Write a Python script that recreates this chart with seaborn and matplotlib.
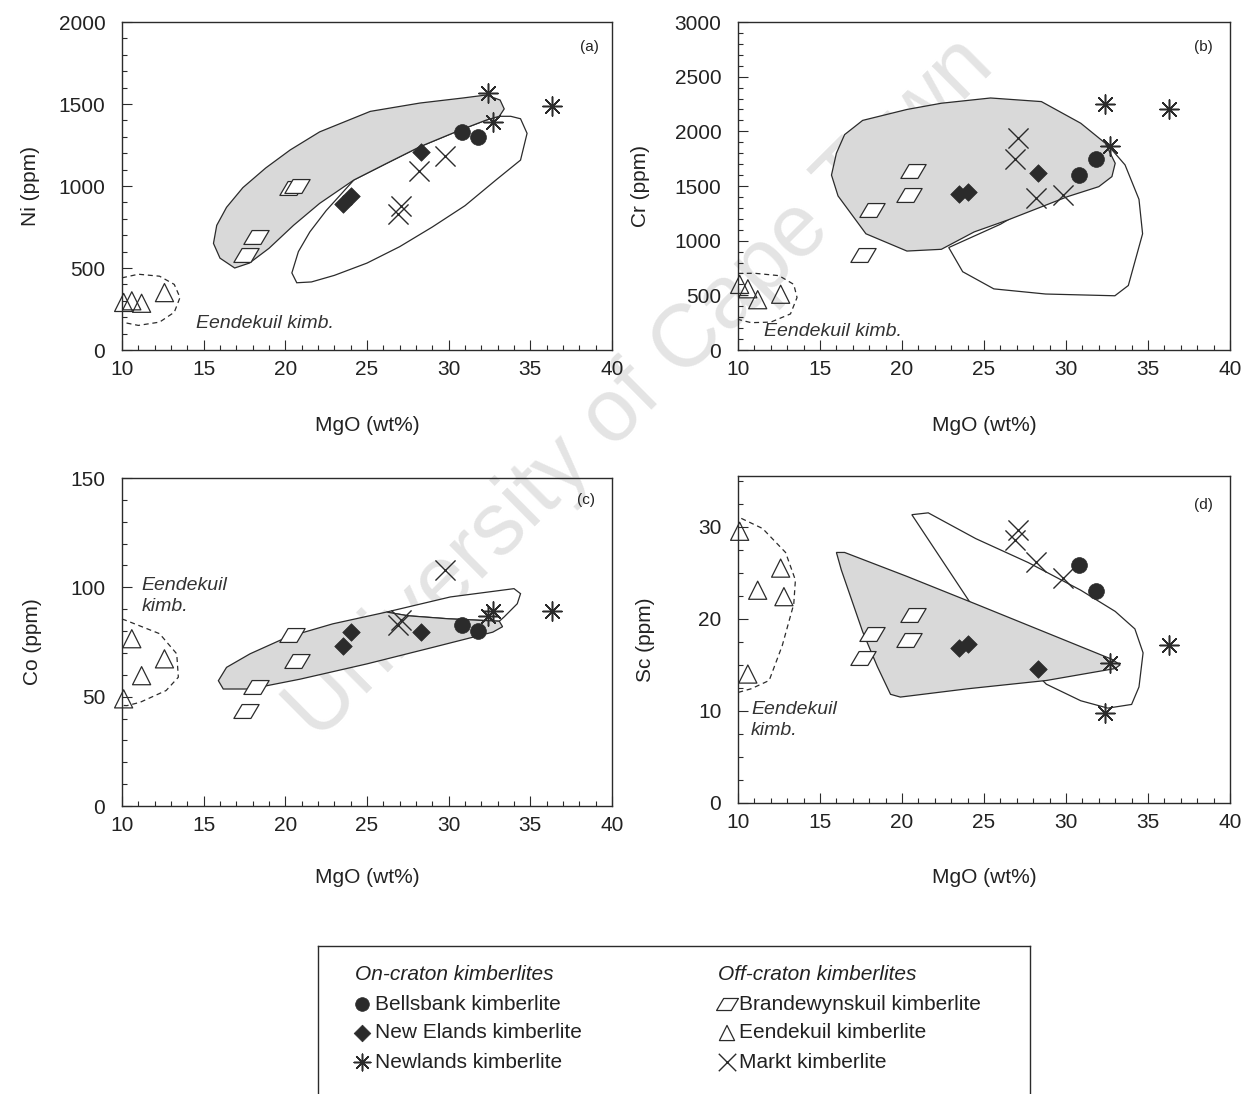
import numpy as np
import matplotlib
matplotlib.use("Agg")
import matplotlib.pyplot as plt
from matplotlib.path import Path
from matplotlib.ticker import MultipleLocator
import seaborn as sns

sns.set_theme(style="white")
plt.rcParams['font.family'] = ['Liberation Sans', 'DejaVu Sans']

nan = np.nan

# ---------------- whole-rock data (MgO wt%, trace elements ppm) ----------------
bellsbank_mgo = [30.8, 31.8]
bellsbank_ni = [1330, 1300]
bellsbank_cr = [1600, 1745]
bellsbank_co = [83, 80]
bellsbank_sc = [25.8, 23.0]

newelands_mgo = [23.5, 24.0, 28.3]
newelands_ni = [890, 940, 1210]
newelands_cr = [1430, 1445, 1620]
newelands_co = [73, 79.5, 79.5]
newelands_sc = [16.8, 17.3, 14.5]

newlands_mgo = [32.4, 32.7, 36.3]
newlands_ni = [1570, 1390, 1490]
newlands_cr = [2250, 1870, 2200]
newlands_co = [87, 89, 89]
newlands_sc = [9.8, 15.2, 17.2]

brandewyn_mgo = [17.6, 18.2, 20.4, 20.7]
brandewyn_ni = [580, 690, 990, 1000]
brandewyn_cr = [870, 1280, 1420, 1640]
brandewyn_co = [43.6, 54.3, 78, 66.5]
brandewyn_sc = [15.7, 18.3, 17.7, 20.4]

eendekuil_mgo = [10.1, 10.6, 11.2, 12.6, 12.8]
eendekuil_ni = [290, 300, 285, 350, nan]
eendekuil_cr = [600, 560, 460, 510, nan]
eendekuil_co = [49, 76.5, 59.6, 67.3, nan]
eendekuil_sc = [29.5, 14.0, 23.1, 25.5, 22.4]

markt_mgo = [26.9, 27.1, 28.2, 29.8]
markt_ni = [830, 880, 1090, 1180]
markt_cr = [1750, 1940, 1390, 1420]
markt_co = [83, 85, nan, 108]
markt_sc = [28.6, 29.6, 26.2, 24.4]

# ---------------- compositional fields (MgO, element) ----------------
field_on_ni = [(16.9, 500), (16.0, 560), (15.6, 650), (15.8, 760), (16.4, 870), (17.4, 990),
               (18.8, 1110), (20.3, 1220), (22.1, 1330), (25.2, 1455), (28.25, 1506), (30.9, 1537),
               (32.3, 1555), (33.15, 1524), (33.4, 1470), (33.1, 1425), (32.3, 1402), (30.7, 1341),
               (28.25, 1240), (26.2, 1138), (24.2, 1037), (22.1, 894), (20.5, 760), (19.0, 620),
               (17.8, 530)]
field_off_ni = [(33.1, 1425), (33.8, 1425), (34.4, 1410), (34.8, 1321), (34.4, 1158), (32.9, 1037),
                (31.0, 880), (29.0, 750), (27.0, 630), (25.0, 530), (23.0, 455), (21.6, 415),
                (20.7, 410), (20.4, 470), (20.8, 600), (21.5, 720), (22.5, 850), (24.2, 1037),
                (26.2, 1138), (28.25, 1240), (30.7, 1341), (32.3, 1402)]
eendekuil_ring_ni = [(10.0, 440), (11.0, 462), (12.3, 450), (13.2, 400), (13.55, 320), (13.2, 230),
                     (12.3, 170), (11.0, 150), (10.0, 170)]

field_on_cr = [(15.7, 1600), (16.0, 1800), (16.5, 1970), (17.6, 2100), (20.3, 2200), (22.4, 2257),
               (25.4, 2305), (28.5, 2272), (30.9, 2074), (32.4, 1891), (33.0, 1708), (32.8, 1586),
               (32.0, 1494), (30.1, 1403), (26.45, 1189), (24.4, 1080), (22.4, 921), (20.3, 905),
               (17.8, 1063), (16.1, 1409)]
field_off_cr = [(22.85, 937), (23.7, 716), (25.6, 559), (28.76, 512), (32.98, 496), (33.8, 590),
                (34.67, 1063), (34.45, 1378), (33.6, 1693), (32.6, 1866), (32.2, 1900), (30.0, 1500),
                (26.0, 1150)]
eendekuil_ring_cr = [(10.0, 700), (11.0, 702), (12.5, 680), (13.4, 600), (13.6, 480), (13.2, 330),
                     (12.0, 255), (10.8, 250), (10.0, 280)]

field_on_co = [(15.9, 57.3), (16.4, 63.4), (17.84, 69.6), (20.1, 77.2), (22.9, 83.3), (26.2, 88.7),
               (27.5, 87.0), (30.0, 85.6), (33.1, 84.5), (33.3, 82.0), (32.7, 79.5), (29.06, 72.6),
               (25.0, 65.0), (20.9, 58.0), (17.84, 53.5), (16.2, 53.5)]
field_off_co = [(26.2, 88.7), (30.1, 95.6), (34.0, 99.4), (34.4, 97.1), (34.2, 92.5), (33.4, 86.5),
                (33.1, 84.5), (30.0, 85.6), (27.5, 87.0)]
eendekuil_ring_co = [(10.0, 85.5), (10.2, 85.0), (12.3, 78.8), (13.35, 69.6), (13.45, 58.9), (12.7, 52.8),
                     (11.1, 47.4), (10.3, 45.9), (10.0, 46.0)]

field_on_sc = [(16.0, 27.2), (16.3, 25.3), (17.6, 18.6), (18.5, 14.8), (19.3, 11.8), (19.9, 11.5),
               (24.0, 12.4), (28.8, 13.3), (33.0, 14.6), (33.3, 15.0), (32.8, 15.6), (24.5, 21.6),
               (20.3, 24.6), (16.5, 27.2)]
field_off_sc = [(20.6, 31.3), (21.6, 31.5), (24.5, 28.7), (27.7, 26.1), (30.9, 23.1), (33.0, 20.8),
                (34.2, 18.9), (34.7, 16.3), (34.45, 12.6), (34.0, 10.7), (32.55, 10.3), (30.9, 11.1),
                (28.8, 12.9), (26.0, 18.0), (24.1, 21.9)]
eendekuil_ring_sc = [(10.2, 30.9), (11.5, 29.8), (12.9, 27.2), (13.5, 24.2), (13.4, 21.6), (12.7, 17.1),
                     (11.9, 13.3), (10.8, 12.4), (10.0, 12.0)]

# ---------------- styling ----------------
INK = '#2b2b2b'
FIELD_GREY = '#d9d9d9'
W, H = 1251, 1094

parallelogram = Path([(-1, -0.55), (0.35, -0.55), (1, 0.55), (-0.35, 0.55), (-1, -0.55)],
                     [Path.MOVETO, Path.LINETO, Path.LINETO, Path.LINETO, Path.CLOSEPOLY])

kimberlites = [
    # name, mgo, values per element, marker style
    ("bellsbank", bellsbank_mgo, dict(Ni=bellsbank_ni, Cr=bellsbank_cr, Co=bellsbank_co, Sc=bellsbank_sc),
     dict(marker='o', s=130, color=INK, edgecolor=INK, linewidth=0.5)),
    ("newelands", newelands_mgo, dict(Ni=newelands_ni, Cr=newelands_cr, Co=newelands_co, Sc=newelands_sc),
     dict(marker='D', s=80, color=INK, edgecolor=INK, linewidth=0.5)),
    ("newlands", newlands_mgo, dict(Ni=newlands_ni, Cr=newlands_cr, Co=newlands_co, Sc=newlands_sc),
     dict(marker=(8, 2, 0), s=190, color=INK, linewidth=1.1)),
    ("brandewyn", brandewyn_mgo, dict(Ni=brandewyn_ni, Cr=brandewyn_cr, Co=brandewyn_co, Sc=brandewyn_sc),
     dict(marker=parallelogram, s=330, color=INK, facecolor='white', edgecolor=INK, linewidth=0.9)),
    ("eendekuil", eendekuil_mgo, dict(Ni=eendekuil_ni, Cr=eendekuil_cr, Co=eendekuil_co, Sc=eendekuil_sc),
     dict(marker='^', s=170, color=INK, facecolor='none', edgecolor=INK, linewidth=0.9)),
    ("markt", markt_mgo, dict(Ni=markt_ni, Cr=markt_cr, Co=markt_co, Sc=markt_sc),
     dict(marker='x', s=210, color=INK, linewidth=1.0)),
]

fig = plt.figure(figsize=(W / 100, H / 100), dpi=100)
fig.patch.set_facecolor('white')

# archive watermark, kept behind the (transparent) panels so every mark stays legible
fig.text(0.512, 0.644, 'University of Cape Town', fontsize=64, color='#e4e4e4',
         rotation=44.8, ha='center', va='center', rotation_mode='anchor', zorder=-1)


def axes_at(left, top, right, bottom):
    return fig.add_axes([left / W, 1 - bottom / H, (right - left) / W, (bottom - top) / H])


panels = [
    dict(ax=axes_at(122, 22, 612, 350), el='Ni', ylim=(0, 2000), major=500, minor=100,
         ylabel='Ni (ppm)', ylab_x=-0.167, xlab_y=-0.2, tag='(a)', tag_pos=(38.6, 1850),
         on=field_on_ni, off=field_off_ni, ring=eendekuil_ring_ni,
         note='Eendekuil kimb.', note_pos=(14.5, 163)),
    dict(ax=axes_at(738, 22, 1230, 350), el='Cr', ylim=(0, 3000), major=500, minor=100,
         ylabel='Cr (ppm)', ylab_x=-0.179, xlab_y=-0.2, tag='(b)', tag_pos=(38.4, 2770),
         on=field_on_cr, off=field_off_cr, ring=eendekuil_ring_cr,
         note='Eendekuil kimb.', note_pos=(11.6, 170)),
    dict(ax=axes_at(122, 478, 612, 806), el='Co', ylim=(0, 150), major=50, minor=10,
         ylabel='Co (ppm)', ylab_x=-0.163, xlab_y=-0.19, tag='(c)', tag_pos=(38.4, 140),
         on=field_on_co, off=field_off_co, ring=eendekuil_ring_co,
         note='Eendekuil\nkimb.', note_pos=(11.2, 96)),
    dict(ax=axes_at(738, 476, 1230, 803), el='Sc', ylim=(0, 35.5), major=10, minor=2.5,
         ylabel='Sc (ppm)', ylab_x=-0.169, xlab_y=-0.2, tag='(d)', tag_pos=(38.4, 32.3),
         on=field_on_sc, off=field_off_sc, ring=eendekuil_ring_sc,
         note='Eendekuil\nkimb.', note_pos=(10.8, 9.0)),
]

for p in panels:
    ax = p['ax']
    ax.set_facecolor('none')

    # compositional fields: open field beneath, shaded field on top
    ox, oy = zip(*p['off'])
    ax.fill(ox, oy, facecolor='white', edgecolor=INK, linewidth=0.9, zorder=1)
    sx, sy = zip(*p['on'])
    ax.fill(sx, sy, facecolor=FIELD_GREY, edgecolor=INK, linewidth=0.9, zorder=2)
    rx, ry = zip(*p['ring'])
    ax.plot(rx, ry, color=INK, linewidth=0.9, linestyle=(0, (4, 3)), zorder=2, clip_on=False)

    for name, mgo, vals, style in kimberlites:
        sns.scatterplot(x=mgo, y=vals[p['el']], ax=ax, legend=False, zorder=4,
                        clip_on=False, **style)

    ax.set_xlim(10, 40)
    ax.set_ylim(*p['ylim'])
    ax.xaxis.set_major_locator(MultipleLocator(5))
    ax.xaxis.set_minor_locator(MultipleLocator(1))
    ax.yaxis.set_major_locator(MultipleLocator(p['major']))
    ax.yaxis.set_minor_locator(MultipleLocator(p['minor']))
    ax.tick_params(which='both', direction='in', bottom=True, left=True, top=False, right=False,
                   color=INK, width=0.8, labelcolor='#222222', labelsize=15)
    ax.tick_params(which='major', length=7)
    ax.tick_params(which='minor', length=3.5)
    ax.tick_params(axis='x', pad=7)
    ax.tick_params(axis='y', pad=12)
    for sp in ax.spines.values():
        sp.set_visible(True)
        sp.set_color(INK)
        sp.set_linewidth(1.0)

    ax.set_xlabel('MgO (wt%)', fontsize=15, color='#222222')
    ax.set_ylabel(p['ylabel'], fontsize=15, color='#222222')
    ax.xaxis.set_label_coords(0.5, p['xlab_y'])
    ax.yaxis.set_label_coords(p['ylab_x'], 0.5)

    ax.text(*p['tag_pos'], p['tag'], fontsize=11, color='#222222', ha='center', va='center')
    ax.text(*p['note_pos'], p['note'], fontsize=14, style='italic', color='#333333',
            ha='left', va='center', linespacing=1.3, zorder=5)

# ---------------- key ----------------
ax_key = fig.add_axes([318 / W, 0, (1030 - 318) / W, (H - 946) / H])
ax_key.set_facecolor('none')
ax_key.set_xlim(0, 712)
ax_key.set_ylim(148, 0)
ax_key.set_xticks([])
ax_key.set_yticks([])
ax_key.spines['bottom'].set_visible(False)
for side in ('top', 'left', 'right'):
    ax_key.spines[side].set_color(INK)
    ax_key.spines[side].set_linewidth(1.0)

key_rows = [29, 58, 87, 116]
ax_key.text(37, key_rows[0], 'On-craton kimberlites', style='italic', fontsize=15,
            color='#222222', va='center')
ax_key.text(400, key_rows[0], 'Off-craton kimberlites', style='italic', fontsize=15,
            color='#222222', va='center')
key_labels = ['Bellsbank kimberlite', 'New Elands kimberlite', 'Newlands kimberlite',
              'Brandewynskuil kimberlite', 'Eendekuil kimberlite', 'Markt kimberlite']
key_scale = [0.75, 0.9, 0.75, 0.75, 0.7, 0.75]
for i, ((name, mgo, vals, style), label) in enumerate(zip(kimberlites, key_labels)):
    col, row = divmod(i, 3)
    mx = 44 if col == 0 else 409
    tx = 57 if col == 0 else 421
    y = key_rows[row + 1]
    kstyle = dict(style)
    kstyle['s'] = style['s'] * key_scale[i]
    ax_key.scatter([mx], [y], zorder=3, clip_on=False, **kstyle)
    ax_key.text(tx, y, label, fontsize=15, color='#222222', va='center')

fig.savefig('out.png', dpi=100, facecolor='white')
